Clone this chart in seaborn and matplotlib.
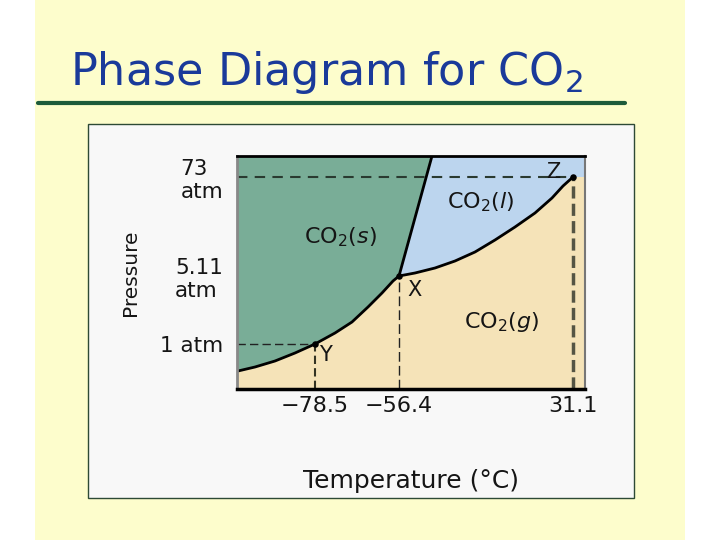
import matplotlib
matplotlib.use("Agg")
import matplotlib.pyplot as plt
import seaborn as sns
from matplotlib.patches import Rectangle
from matplotlib.lines import Line2D

# schematic diagram: x/y are positions along the (non-linear) axes
x_max, y_max = 348, 233

sub_x = [1, 18, 38, 58, 78, 98, 115, 131, 145, 156, 162]
sub_y = [18, 22, 28, 36, 45, 56, 67, 82, 96, 108, 113]
vap_x = [162, 178, 198, 218, 238, 258, 278, 298, 315, 326, 336]
vap_y = [113, 116, 121, 128, 137, 149, 162, 176, 191, 203, 212]
melt_x = [162, 195]
melt_y = [113, 233]

point_names = ["Y", "X", "Z"]
point_x = [78, 162, 336]
point_y = [45, 113, 212]

temp_labels = ["\u221278.5", "\u221256.4", "31.1"]
pres_labels = ["1 atm", "5.11\natm", "73\natm"]

phase_labels = ["CO$_2$($s$)", "CO$_2$($l$)", "CO$_2$($g$)"]
phase_x = [103, 244, 265]
phase_y = [152, 187, 67]
mark_x = [88, 178, 316]
mark_y = [34, 99, 217]

sns.set_style("white")
plt.rcParams["font.family"] = ["DejaVu Sans"]
plt.rcParams["mathtext.fontset"] = "dejavusans"

fig = plt.figure(figsize=(7.2, 5.4), dpi=100)
fig.patch.set_facecolor("white")
fig.patches.append(Rectangle((35 / 720, 0), 650 / 720, 1, transform=fig.transFigure,
                             facecolor="#fdfdcc", edgecolor="none", zorder=0))
fig.text(70 / 720, 1 - 85 / 540, "Phase Diagram for CO$_2$", fontsize=32,
         color="#1a3a9a", va="baseline", ha="left")
fig.lines.append(Line2D([38 / 720, 625 / 720], [1 - 103 / 540, 1 - 103 / 540],
                        transform=fig.transFigure, color="#1d5b3a", lw=3))
fig.patches.append(Rectangle((88 / 720, 42 / 540), 546 / 720, 374 / 540,
                             transform=fig.transFigure, facecolor="#f8f8f8",
                             edgecolor="#2d4a35", lw=1, zorder=1))

ax = fig.add_axes([237 / 720, 151 / 540, 348 / 720, 233 / 540])
ax.set_zorder(2)
ax.set_facecolor("#f5e3b8")
ax.set_xlim(0, x_max)
ax.set_ylim(0, y_max)

# solid region
solid_x = [0, melt_x[1]] + melt_x[::-1][1:] + sub_x[::-1][1:] + [0]
solid_y = [y_max, y_max] + melt_y[::-1][1:] + sub_y[::-1][1:] + [sub_y[0]]
ax.fill(solid_x, solid_y, color="#79ad97", lw=0)
# liquid region
liq_x = [melt_x[1], x_max, x_max] + vap_x[::-1]
liq_y = [y_max, y_max, vap_y[-1]] + vap_y[::-1]
ax.fill(liq_x, liq_y, color="#bcd5ee", lw=0)

# guide lines
ax.hlines(point_y[2], 0, point_x[2], colors="#2a3a30", lw=1.5, linestyles=(0, (5, 3.5)))
ax.hlines(point_y[0], 0, point_x[0], colors="#222222", lw=1, linestyles=(0, (6, 3)))
ax.vlines(point_x[0], 0, point_y[0], colors="#333322", lw=1.5, linestyles=(0, (4, 2)))
ax.vlines(point_x[1], 0, point_y[1], colors="#222222", lw=1, linestyles=(0, (7, 3)))
ax.vlines(point_x[2], 0, point_y[2], colors="#555544", lw=2.5, linestyles=(0, (3.5, 1.5)))

for cx, cy in [(sub_x, sub_y), (vap_x, vap_y), (melt_x, melt_y)]:
    sns.lineplot(x=cx, y=cy, sort=False, color="black", lw=2, ax=ax, estimator=None)
sns.scatterplot(x=point_x, y=point_y, color="black", s=22, ax=ax, zorder=5, linewidth=0)

for lab, lx, ly in zip(phase_labels, phase_x, phase_y):
    ax.text(lx, ly, lab, fontsize=16, ha="center", va="center", color="#151515")
for lab, lx, ly in zip(point_names, mark_x, mark_y):
    ax.text(lx, ly, lab, fontsize=15, ha="center", va="center", color="#151515")

ax.set_xticks(point_x)
ax.set_xticklabels(temp_labels, fontsize=16, color="#151515")
ax.set_yticks(point_y)
ax.set_yticklabels(pres_labels, fontsize=15.5, multialignment="left", color="#151515")
ax.tick_params(length=0)
ax.tick_params(axis="x", pad=5)
ax.tick_params(axis="y", pad=10)
ax.set_xlabel("Temperature (\u00b0C)", fontsize=18, labelpad=38, color="#151515")
ax.set_ylabel("Pressure", fontsize=14.5, labelpad=14, color="#151515")

for side, col, w in [("left", "#888888", 2), ("bottom", "black", 2.5),
                     ("top", "black", 2), ("right", "#777777", 1.5)]:
    ax.spines[side].set_visible(True)
    ax.spines[side].set_color(col)
    ax.spines[side].set_linewidth(w)

fig.savefig("out.png", dpi=100)
